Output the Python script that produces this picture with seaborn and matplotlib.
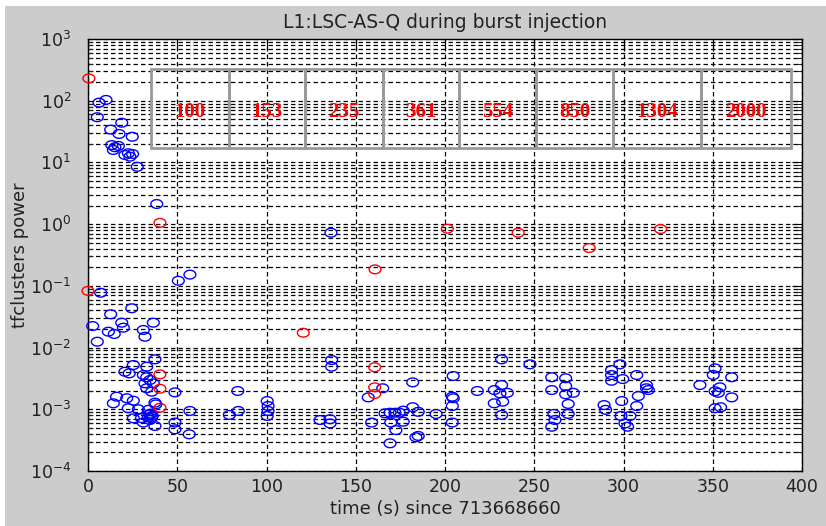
import numpy as np
import pandas as pd
import matplotlib
matplotlib.use("Agg")
import matplotlib.pyplot as plt
import seaborn as sns
from matplotlib.ticker import LogLocator, FixedLocator, NullFormatter
from matplotlib.patches import Rectangle

# ---------------- data ----------------
blue_t = [6.2, 10.1, 5.2, 18.9, 12.7, 17.4, 24.8, 13.3, 15.1, 14.2, 17.0, 20.7, 23.5, 22.6, 25.0, 27.6, 38.5,
          50.6, 57.1, 7.1, 24.5, 12.7, 18.9, 36.6, 2.6, 19.8, 11.4, 14.7, 31.0, 31.9, 5.2, 136.1,
          37.5, 25.4, 32.9, 20.7, 23.1, 31.0, 32.9, 34.7, 31.9, 36.6, 32.9, 35.7, 48.7, 83.9, 16.0, 21.7,
          25.4, 14.2, 37.5, 22.6, 28.2, 33.8, 57.1, 84.2, 79.2, 25.4, 33.8, 34.7, 31.0, 37.5, 48.7, 48.7,
          56.7, 35.0, 36.0, 30.0, 38.0, 34.5, 35.5,
          100.4, 100.9, 100.9, 100.4, 130.0, 135.6, 135.6, 136.5, 136.5,
          165.1, 157.0, 158.9, 181.9, 166.4, 169.2, 172.0, 174.4, 176.6, 181.9, 185.0, 195.0, 169.6, 176.6,
          172.5, 183.7, 185.0, 169.2,
          204.6, 204.1, 204.6, 204.1, 204.1, 218.1, 231.7, 231.7, 227.6, 230.8, 234.9, 232.3, 227.6, 231.7,
          247.6,
          259.8, 259.8, 267.6, 267.6, 267.6, 271.9, 269.0, 269.0, 261.0, 261.6, 259.8,
          289.1, 290.0, 293.3, 293.3, 293.3, 298.0, 299.6, 299.0, 298.6, 303.6, 300.8, 302.3, 307.4, 308.3,
          307.4, 312.9, 312.9, 313.9,
          342.8, 351.3, 350.3, 360.6, 354.0, 351.3, 353.1, 360.6, 351.3, 354.4]
blue_p = [93, 103, 54, 44, 34, 28.9, 26.1, 19.1, 17.6, 15.9, 18.5, 13.2, 12.4, 14.1, 13.7, 8.5, 2.12,
          0.121, 0.152, 0.0774, 0.0433, 0.0346, 0.0253, 0.0253, 0.0223, 0.021, 0.0181, 0.0166, 0.0193, 0.015,
          0.01245, 0.726,
          0.00645, 0.00521, 0.0049, 0.00406, 0.00382, 0.00359, 0.0033, 0.00298, 0.00263, 0.00263, 0.00219,
          0.00193, 0.00188, 0.00198, 0.0016, 0.00151, 0.00138, 0.00125, 0.00128, 0.00104, 0.001, 0.00098,
          0.00094, 0.00094, 0.00081, 0.000713, 0.00074, 0.00067, 0.00061, 0.000536, 0.00061, 0.000473,
          0.000393, 0.00085, 0.00078, 0.00072, 0.0012, 0.00082, 0.00072,
          0.00136, 0.00113, 0.00094, 0.00078, 0.00067, 0.00069, 0.00059, 0.00628, 0.0049,
          0.00219, 0.00156, 0.00061, 0.00273, 0.00086, 0.00088, 0.00088, 0.00088, 0.00095, 0.00108, 0.00091,
          0.00084, 0.00061, 0.00063, 0.00046, 0.000352, 0.00037, 0.000281,
          0.00346, 0.0016, 0.00151, 0.00113, 0.00061, 0.00198, 0.00645, 0.00247, 0.00205, 0.00181, 0.00185,
          0.00133, 0.00125, 0.00081,
          0.00535,
          0.0033, 0.00205, 0.00318, 0.00238, 0.00175, 0.00185, 0.00122, 0.00084, 0.00084, 0.00067, 0.000522,
          0.00117, 0.00098, 0.00432, 0.00359, 0.0029, 0.00535, 0.00309, 0.00136, 0.00078, 0.00078, 0.00059,
          0.000522, 0.00359, 0.00164, 0.00113, 0.00247, 0.00219, 0.00205,
          0.00247, 0.0046, 0.00359, 0.0033, 0.00227, 0.00196, 0.00185, 0.00156, 0.00104, 0.00108]

red_t = [0.5, 0.0, 40.3, 40.3, 40.3, 40.3, 120.6, 160.8, 160.6, 160.6, 160.6, 201.3, 241.0, 280.8, 320.8]
red_p = [230, 0.083, 1.05, 0.00368, 0.00215, 0.00106, 0.0174, 0.185, 0.0048, 0.00227, 0.00177,
         0.843, 0.726, 0.41, 0.834]

freq_labels = ["100", "153", "235", "361", "554", "850", "1304", "2000"]
x_ticks = [0, 50, 100, 150, 200, 250, 300, 350, 400]
y_exps = [-4, -3, -2, -1, 0, 1, 2, 3]

title = "L1:LSC-AS-Q during burst injection"
xlabel = "time (s) since 713668660"
ylabel = "tfclusters power"

# ---------------- style ----------------
sns.set_theme(style="white")
plt.rcParams["font.family"] = ["DejaVu Sans"]
plt.rcParams["mathtext.default"] = "regular"
plt.rcParams["lines.scale_dashes"] = False

W, H = 826, 526
fig = plt.figure(figsize=(W / 100, H / 100), dpi=100, facecolor="white")
fig.patches.append(Rectangle((5 / W, 0), 1 - 5 / W, 1 - 6 / H, transform=fig.transFigure,
                             facecolor="#cccccc", edgecolor="none", zorder=-10))
ax = fig.add_axes([88 / W, 1 - 471 / H, (802 - 88) / W, (471 - 39) / H])
ax.set_facecolor("white")

ax.set_yscale("log")
ax.set_xlim(0, 400)
ax.set_ylim(1e-4, 1e3)

# grid lines
dash = (0, (3.2, 2.2))
ax.xaxis.set_major_locator(FixedLocator(x_ticks))
ax.yaxis.set_major_locator(LogLocator(base=10, numticks=20))
ax.yaxis.set_minor_locator(LogLocator(base=10, subs=np.arange(2, 10), numticks=20))
ax.yaxis.set_minor_formatter(NullFormatter())
ax.grid(True, which="major", axis="both", color="black", linestyle=dash, linewidth=0.9)
ax.grid(True, which="minor", axis="y", color="black", linestyle=dash, linewidth=0.9)
ax.set_axisbelow(True)

ax.set_yticks([10.0 ** e for e in y_exps])
ax.set_yticklabels([r"$10^{%d}$" % e for e in y_exps])
ax.set_xticklabels([str(v) for v in x_ticks])

ax.tick_params(which="major", direction="in", length=7, width=0.8, top=True, right=True,
               labelsize=12.5, colors="black")
ax.tick_params(axis="x", which="major", pad=5)
ax.tick_params(axis="y", which="major", pad=12)
ax.tick_params(which="minor", direction="in", length=3.5, width=0.8, top=False, right=True, left=True)
for lab in ax.get_xticklabels() + ax.get_yticklabels():
    lab.set_color("#222222")
for s in ax.spines.values():
    s.set_color("black")
    s.set_linewidth(1.0)

# ellipse marker (image is slightly stretched horizontally)
theta = np.linspace(0, 2 * np.pi, 60)
ell = np.column_stack([1.35 * np.cos(theta), np.sin(theta)])

df_b = pd.DataFrame({"t": blue_t, "p": blue_p})
df_r = pd.DataFrame({"t": red_t, "p": red_p})
sns.scatterplot(data=df_b, x="t", y="p", ax=ax, marker=ell, s=72, facecolor="none",
                edgecolor="#0000ff", linewidth=1.0, zorder=3, clip_on=False)
sns.scatterplot(data=df_r, x="t", y="p", ax=ax, marker=ell, s=72, facecolor="none",
                edgecolor="#ff0000", linewidth=1.0, zorder=4, clip_on=False)

# inset frequency boxes
edges = [151, 229, 305, 383, 459, 536, 613, 701, 791]
fx = [(e - 88) / (802 - 88) for e in edges]
y0, y1 = (471 - 148) / 432, (471 - 69) / 432
for i, lab in enumerate(freq_labels):
    ax.add_patch(Rectangle((fx[i], y0), fx[i + 1] - fx[i], y1 - y0, transform=ax.transAxes,
                           facecolor="none", edgecolor="#9a9a9a", linewidth=2.0, zorder=5))
    ax.text((fx[i] + fx[i + 1]) / 2, (471 - 112) / 432, lab, transform=ax.transAxes,
            ha="center", va="center", color="#ff0000", fontsize=15, fontweight="bold",
            family=["Liberation Serif", "DejaVu Serif"], zorder=6)

ax.set_title(title, fontsize=13.5, color="#222222", pad=8)
ax.set_xlabel(xlabel, fontsize=13, color="#222222", labelpad=3)
ax.set_ylabel(ylabel, fontsize=13, color="#222222")
ax.yaxis.set_label_coords((29 - 88) / (802 - 88), 0.5)

fig.savefig("out.png", dpi=100, facecolor=fig.get_facecolor())
